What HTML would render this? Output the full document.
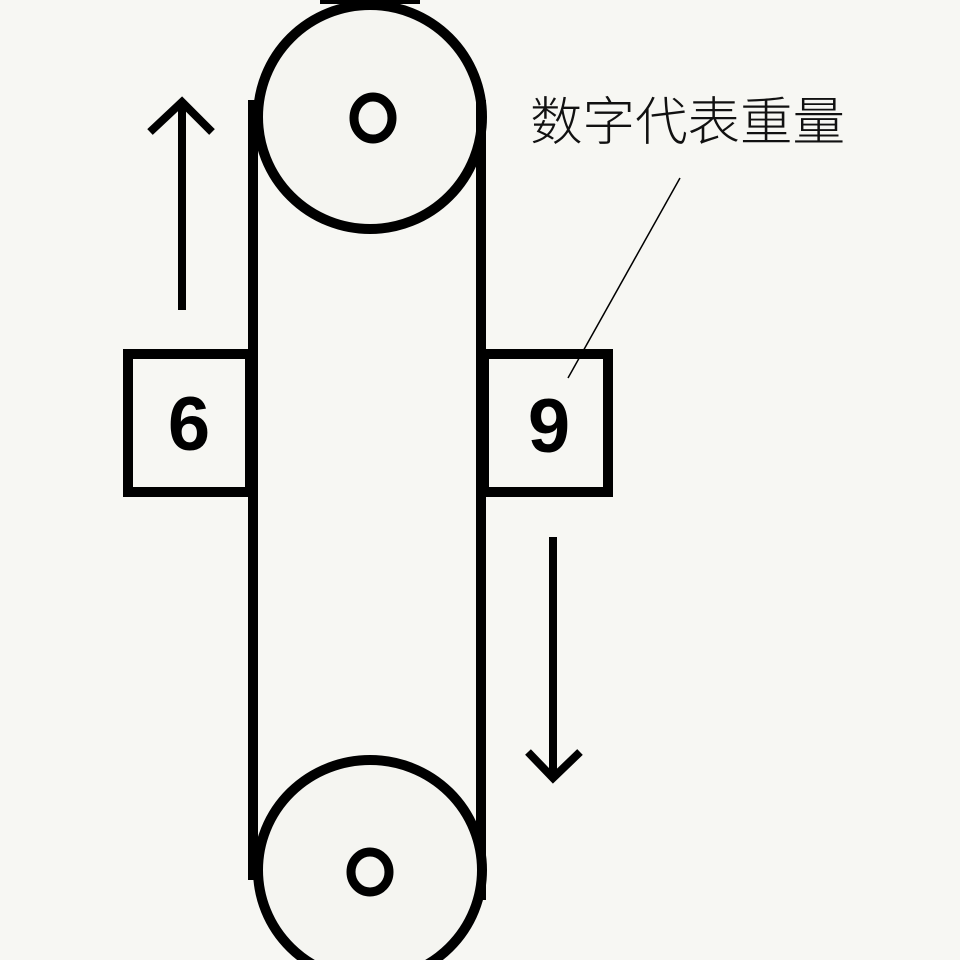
<!DOCTYPE html>
<html><head><meta charset="utf-8"><style>html,body{margin:0;padding:0;background:#f7f7f3;}svg{display:block}</style></head>
<body>
<svg width="960" height="960" viewBox="0 0 960 960" xmlns="http://www.w3.org/2000/svg">
<rect width="960" height="960" fill="#f7f7f3"/>
<g fill="none" stroke="#000">
<rect x="320" y="0" width="100" height="4" fill="#000" stroke="none"/>
<ellipse cx="370" cy="117" rx="112" ry="112" stroke-width="10" fill="#f5f5f1"/>
<ellipse cx="373" cy="118" rx="19" ry="21" stroke-width="9"/>
<line x1="253" y1="100" x2="253" y2="880" stroke-width="10"/>
<line x1="481" y1="100" x2="481" y2="900" stroke-width="10"/>
<ellipse cx="370" cy="870" rx="112" ry="110" stroke-width="10" fill="#f5f5f1"/>
<ellipse cx="370" cy="872" rx="19" ry="20" stroke-width="9"/>
<rect x="128" y="354" width="122" height="138" stroke-width="10"/>
<rect x="484" y="354" width="124" height="138" stroke-width="10"/>
<path d="M182 310 V102 M150 132 L182 102 L212 132" stroke-width="8"/>
<path d="M553 537 V778 M528 752 L553 778 L580 752" stroke-width="8"/>
<line x1="680" y1="178" x2="568" y2="378" stroke-width="1.5"/>
</g>
<g font-family="'Liberation Sans', sans-serif" font-weight="bold" font-size="76" text-anchor="middle" fill="#000">
<text x="189" y="450">6</text>
<text x="549" y="452">9</text>
</g>
<text x="530" y="140" font-family="'Liberation Sans','Noto Sans CJK SC',sans-serif" font-weight="300" font-size="52" fill="#111" textLength="315" lengthAdjust="spacingAndGlyphs">数字代表重量</text>
</svg>
</body></html>
